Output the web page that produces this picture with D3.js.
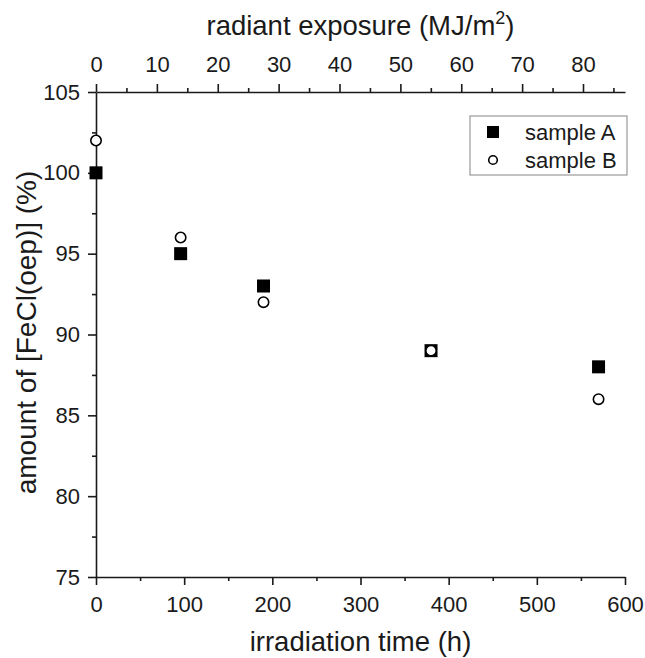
<!DOCTYPE html>
<html><head><meta charset="utf-8">
<script src="https://cdn.jsdelivr.net/npm/d3@7"></script>
<style>body{margin:0;background:#fff}svg{font-family:"Liberation Sans",Arial,sans-serif}</style>
</head><body>
<div id="chart"></div>
<script>
const timeA = [0, 96, 190, 380, 570];
const valuesA = [100, 95, 93, 89, 88];
const timeB = [0, 96, 190, 380, 570];
const valuesB = [102, 96, 92, 89, 86];
const xTicks = [0, 100, 200, 300, 400, 500, 600];
const yTicks = [75, 80, 85, 90, 95, 100, 105];
const topTicks = [0, 10, 20, 30, 40, 50, 60, 70, 80];
const seriesNames = ["sample A", "sample B"];

const W = 645, H = 658;
const m = {left: 96, right: 20, top: 92, bottom: 81};
const svg = d3.select("#chart").append("svg").attr("width", W).attr("height", H);
const x = d3.scaleLinear().domain([0, 600]).range([m.left, W - m.right]);
const y = d3.scaleLinear().domain([75, 105]).range([H - m.bottom, m.top]);
const xTop = d3.scaleLinear().domain([0, 86.9]).range([m.left, W - m.right]);

const INK = "#1a1a1a";
function styleAxis(g) {
  g.selectAll("path").attr("stroke", INK).attr("stroke-width", 1.6);
  g.selectAll("line").attr("stroke", INK).attr("stroke-width", 1.6);
  g.selectAll("text").attr("font-size", 22).attr("fill", INK);
}
const minor = (scale, step) => d3.range(scale.domain()[0], scale.domain()[1] + 1e-9, step);

const gx = svg.append("g").attr("transform", `translate(0,${H - m.bottom})`)
  .call(d3.axisBottom(x).tickValues(xTicks).tickSize(8).tickPadding(11).tickSizeOuter(0));
gx.append("g").call(d3.axisBottom(x).tickValues(minor(x, 50).filter(v => v % 100 !== 0)).tickSize(4).tickFormat(""))
  .select("path").remove();
styleAxis(gx);

const gy = svg.append("g").attr("transform", `translate(${m.left},0)`)
  .call(d3.axisLeft(y).tickValues(yTicks).tickSize(8).tickPadding(8).tickSizeOuter(0));
gy.append("g").call(d3.axisLeft(y).tickValues(minor(y, 2.5).filter(v => v % 5 !== 0)).tickSize(4).tickFormat(""))
  .select("path").remove();
styleAxis(gy);

const gt = svg.append("g").attr("transform", `translate(0,${m.top})`)
  .call(d3.axisTop(xTop).tickValues(topTicks).tickSize(8).tickPadding(12).tickSizeOuter(0));
gt.append("g").call(d3.axisTop(xTop).tickValues(d3.range(5, 86, 10)).tickSize(4).tickFormat(""))
  .select("path").remove();
styleAxis(gt);

// axis titles
const cx = (m.left + W - m.right) / 2;
svg.append("text").attr("x", cx).attr("y", 651).attr("text-anchor", "middle")
  .attr("font-size", 27.5).attr("fill", INK).text("irradiation time (h)");
const tt = svg.append("text").attr("x", cx).attr("y", 35).attr("text-anchor", "middle")
  .attr("font-size", 27.5).attr("fill", INK);
tt.append("tspan").text("radiant exposure (MJ/m");
tt.append("tspan").attr("font-size", 18).attr("dy", -11).text("2");
tt.append("tspan").attr("dy", 11).text(")");
svg.append("text").attr("transform", `translate(36,${(m.top + H - m.bottom) / 2 - 2}) rotate(-90)`)
  .attr("text-anchor", "middle").attr("font-size", 28).attr("fill", INK)
  .text("amount of [FeCl(oep)] (%)");

// data
const sq = 13;
svg.append("g").selectAll("rect").data(timeA.map((t, i) => [t, valuesA[i]])).join("rect")
  .attr("x", d => x(d[0]) - sq / 2).attr("y", d => y(d[1]) - sq / 2)
  .attr("width", sq).attr("height", sq).attr("fill", "#000");
svg.append("g").selectAll("circle").data(timeB.map((t, i) => [t, valuesB[i]])).join("circle")
  .attr("cx", d => x(d[0])).attr("cy", d => y(d[1])).attr("r", 5.2)
  .attr("fill", "#fff").attr("stroke", "#000").attr("stroke-width", 1.6);

// legend
const lg = svg.append("g");
lg.append("rect").attr("x", 470).attr("y", 116).attr("width", 157).attr("height", 59)
  .attr("fill", "#fff").attr("stroke", "#999").attr("stroke-width", 1.2);
lg.append("rect").attr("x", 487).attr("y", 126).attr("width", 12).attr("height", 12).attr("fill", "#000");
lg.append("circle").attr("cx", 493).attr("cy", 160).attr("r", 4.3).attr("fill", "#fff")
  .attr("stroke", "#000").attr("stroke-width", 1.6);
lg.selectAll("text.l").data(seriesNames).join("text").attr("class", "l")
  .attr("x", 525).attr("y", (d, i) => 140 + i * 28).attr("font-size", 22).attr("fill", INK).text(d => d);
</script>
</body></html>
